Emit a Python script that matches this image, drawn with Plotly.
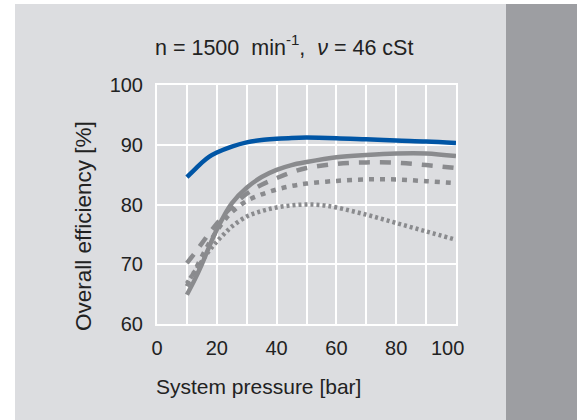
import plotly.graph_objects as go

# ---- data ----
pressure_blue = [10, 12.5, 15, 17.5, 20, 25, 30, 35, 40, 45, 50, 60, 70, 80, 90, 100]
eff_blue = [84.6, 85.8, 87.0, 88.0, 88.7, 89.7, 90.4, 90.8, 91.0, 91.15, 91.2, 91.1, 90.9, 90.7, 90.55, 90.3]

pressure = [10, 12.5, 15, 17.5, 20, 22.5, 25, 30, 35, 40, 45, 50, 60, 70, 80, 90, 100]
eff_solid = [64.9, 67.3, 70.0, 73.0, 75.8, 78.2, 80.2, 82.8, 84.6, 85.8, 86.6, 87.1, 87.9, 88.3, 88.55, 88.55, 88.1]
eff_dash = [70.2, 71.8, 73.5, 75.2, 76.8, 78.3, 79.6, 81.8, 83.3, 84.4, 85.4, 86.1, 86.8, 87.05, 87.0, 86.6, 86.1]
eff_dot = [66.3, 68.8, 71.3, 73.6, 75.6, 77.3, 78.7, 80.6, 81.7, 82.5, 83.1, 83.5, 83.95, 84.2, 84.2, 83.9, 83.6]

pressure_fine = [10, 12.5, 15, 17.5, 20, 22.5, 25, 30, 35, 40, 45, 50, 55, 60, 70, 80, 90, 100]
eff_fine = [66.8, 68.7, 70.5, 72.3, 73.8, 75.1, 76.3, 78.0, 78.9, 79.5, 79.85, 80.0, 79.9, 79.5, 78.3, 76.9, 75.5, 74.1]

x_ticks = [0, 20, 40, 60, 80, 100]
x_ticktext = ["0", "20", "40", "60", "80", "100\u2007\u00a0"]
y_ticks = [60, 70, 80, 90, 100]

title_text = "n = 1500  min<sup>-1</sup>,  <i>\u03bd</i> = 46 cSt"
x_title = "System pressure [bar]"
y_title = "Overall efficiency [%]"

# ---- layout geometry ----
W, H = 577, 420
L, R, T, B = 157, 456, 85, 324   # plot area in pixels


def px_x(p):
    return (p - L) / (R - L)


def px_y(p):
    return (B - p) / (B - T)


GRAY = "#8a8b8e"
BLUE = "#0055a5"
BG = "#dcdde0"
DARK = "#9d9ea2"
TXT = "#222222"
FONT = "Liberation Sans, Arial, sans-serif"

fig = go.Figure()
fig.add_trace(go.Scatter(x=pressure_fine, y=eff_fine, mode="lines", line_shape="spline",
                         line=dict(color=GRAY, width=4.5, dash="3px,3px"), hoverinfo="skip"))
fig.add_trace(go.Scatter(x=pressure, y=eff_dot, mode="lines", line_shape="spline",
                         line=dict(color=GRAY, width=4.5, dash="5px,6px"), hoverinfo="skip"))
fig.add_trace(go.Scatter(x=pressure, y=eff_dash, mode="lines", line_shape="spline",
                         line=dict(color=GRAY, width=4.5, dash="11px,10px"), hoverinfo="skip"))
fig.add_trace(go.Scatter(x=pressure, y=eff_solid, mode="lines", line_shape="spline",
                         line=dict(color=GRAY, width=4.5), hoverinfo="skip"))
fig.add_trace(go.Scatter(x=pressure_blue, y=eff_blue, mode="lines", line_shape="spline",
                         line=dict(color=BLUE, width=4.5), hoverinfo="skip"))

fig.update_layout(
    width=W, height=H,
    margin=dict(l=L, r=W - R, t=T, b=H - B, pad=0),
    paper_bgcolor="white",
    plot_bgcolor="rgba(0,0,0,0)",
    showlegend=False,
    font=dict(family=FONT, size=20, color=TXT),
    title=dict(text=title_text, x=155 / W, xref="container", xanchor="left",
               y=1 - 47 / H, yref="container", yanchor="middle",
               font=dict(family=FONT, size=21.5, color=TXT)),
    shapes=[
        dict(type="rect", xref="paper", yref="paper", layer="below",
             x0=px_x(15), x1=px_x(506), y0=px_y(H + 5), y1=px_y(4),
             fillcolor=BG, line=dict(width=0)),
        dict(type="rect", xref="paper", yref="paper", layer="below",
             x0=px_x(506), x1=px_x(W + 5), y0=px_y(H + 5), y1=px_y(4),
             fillcolor=DARK, line=dict(width=0)),
    ],
    annotations=[
        dict(text=x_title, xref="paper", yref="paper", x=px_x(154), y=px_y(386),
             xanchor="left", yanchor="middle", showarrow=False,
             font=dict(family=FONT, size=21, color=TXT)),
        dict(text=y_title, xref="paper", yref="paper", x=px_x(83), y=px_y(333),
             xanchor="center", yanchor="bottom", textangle=-90, showarrow=False,
             font=dict(family=FONT, size=22.5, color=TXT)),
    ],
)

fig.update_xaxes(range=[0, 100], tickmode="array", tickvals=x_ticks, ticktext=x_ticktext,
                 showgrid=True, gridcolor="white", gridwidth=2,
                 minor=dict(showgrid=True, gridcolor="white", gridwidth=2, dtick=10),
                 showline=True, linecolor="white", linewidth=2, mirror=True,
                 zeroline=False, ticks="", ticklabelstandoff=5, fixedrange=True)
fig.update_yaxes(range=[60, 100], tickmode="array", tickvals=y_ticks,
                 showgrid=True, gridcolor="white", gridwidth=2,
                 showline=True, linecolor="white", linewidth=2, mirror=True,
                 zeroline=False, ticks="", ticklabelstandoff=8, fixedrange=True)

fig.write_html("out.html", config={"displayModeBar": False},
               post_script="document.body.style.margin='0px';document.body.style.overflow='hidden';")
